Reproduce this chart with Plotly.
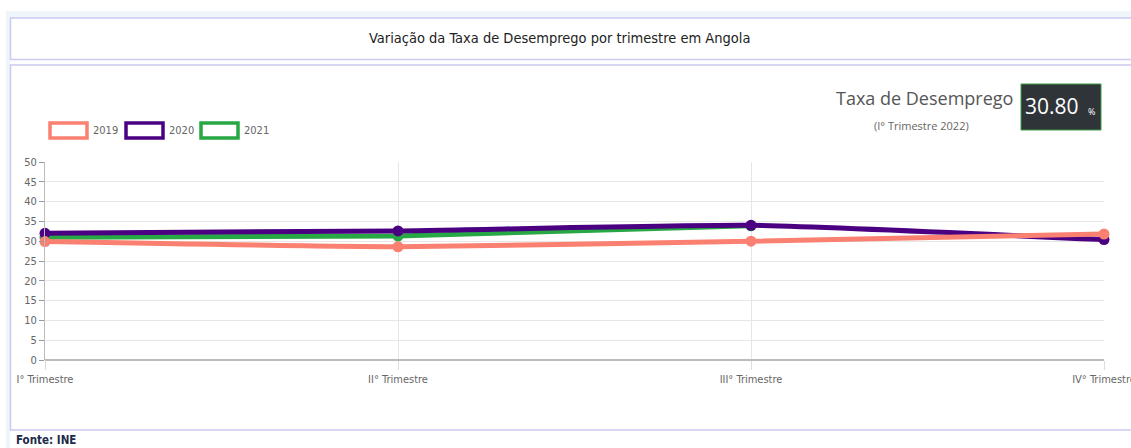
import plotly.graph_objects as go

quarters = ["I° Trimestre", "II° Trimestre", "III° Trimestre", "IV° Trimestre"]
years = ["2019", "2020", "2021"]
v2019 = [29.9, 28.6, 30.0, 31.8]
v2020 = [32.0, 32.6, 34.0, 30.4]
v2021 = [31.0, 31.3, 33.9]
colors = {"2019": "#fa8072", "2020": "#4b0082", "2021": "#28a745"}
series = {"2019": v2019, "2020": v2020, "2021": v2021}
y_ticks = list(range(0, 51, 5))
kpi_value = "30.80"
kpi_title = "Taxa de Desemprego"
kpi_sub = "(I° Trimestre 2022)"
title = "Variação da Taxa de Desemprego por trimestre em Angola"
source = "Fonte: INE"

W, H = 1131, 448
L, R, T, B = 45, 27, 162, 88
PW, PH = W - L - R, H - T - B
NARROW = "Liberation Sans Narrow, Arial Narrow, DejaVu Sans Condensed, sans-serif"


def px(x):
    return (x - L) / PW


def py(y):
    return (H - B - y) / PH


fig = go.Figure()
for yr in reversed(years):
    vals = series[yr]
    fig.add_trace(go.Scatter(
        x=quarters[:len(vals)], y=vals, mode="lines+markers", name=yr,
        line=dict(color=colors[yr], width=5, shape="spline", smoothing=0.5),
        marker=dict(color=colors[yr], size=11),
        hoverinfo="skip", showlegend=False, cliponaxis=False,
    ))

shapes = []
annotations = []


def rect(x0, y0, x1, y1, line_color, fill="rgba(0,0,0,0)", lw=1.5, layer="below"):
    shapes.append(dict(type="rect", xref="paper", yref="paper",
                       x0=px(x0), x1=px(x1), y0=py(y1), y1=py(y0),
                       line=dict(color=line_color, width=lw), fillcolor=fill, layer=layer))


def text(x, y, s, size, color, family=NARROW, xanchor="center", yanchor="middle"):
    annotations.append(dict(xref="paper", yref="paper", x=px(x), y=py(y), text=s,
                            showarrow=False, xanchor=xanchor, yanchor=yanchor,
                            font=dict(size=size, color=color, family=family)))


# outer light panel edges
rect(6, 11, 1140, 18, "#eef5fb", fill="#eef5fb", lw=0)
rect(6, 11, 10, 460, "#eef5fb", fill="#eef5fb", lw=0)
# title box
rect(10.5, 18, 1140, 59.5, "#cbcaf0", fill="white", lw=1.5)
# chart box
rect(10.5, 65, 1140, 430, "#cbcaf0", fill="white", lw=1.5)

text(559, 38, title, 14.5, "#222222")
text(14, 440, "<b>" + source + "</b>", 11.5, "#1a2a4a", xanchor="left")

# custom legend
leg_x = [50, 126, 201]
for yr, lx in zip(years, leg_x):
    rect(lx, 123, lx + 37, 138, colors[yr], fill="white", lw=3.5, layer="above")
    text(lx + 41, 130.5, yr, 11, "#666666", xanchor="left")

# KPI
text(924, 98, kpi_title, 18, "#555555", family="Open Sans")
text(921, 126, kpi_sub, 11, "#666666", family="Open Sans")
shapes.append(dict(type="rect", xref="paper", yref="paper",
                   x0=px(1021), x1=px(1101), y0=py(130), y1=py(84),
                   line=dict(color="#3f9b45", width=1), fillcolor="#2f3438", layer="above"))
text(1052, 106, kpi_value, 21, "white", family="Open Sans")
text(1091, 111, "%", 9, "white", family="Open Sans")

fig.update_layout(
    width=W, height=H, autosize=False,
    margin=dict(l=L, r=R, t=T, b=B, autoexpand=False),
    paper_bgcolor="white", plot_bgcolor="rgba(0,0,0,0)",
    shapes=shapes, annotations=annotations, showlegend=False,
    xaxis=dict(type="category", range=[0, 3], showgrid=True, gridcolor="#e6e6e6",
               ticks="outside", ticklen=9, tickcolor="#dddddd", automargin=False,
               showline=False, zeroline=False,
               tickfont=dict(family=NARROW, size=11, color="#666666")),
    yaxis=dict(range=[0, 50], tickvals=y_ticks, showgrid=True, gridcolor="#e6e6e6",
               ticks="outside", ticklen=5, tickcolor="#999999", automargin=False,
               showline=True, linecolor="#bbbbbb", zeroline=True, zerolinecolor="#bbbbbb",
               zerolinewidth=1.5,
               tickfont=dict(family=NARROW, size=11, color="#666666")),
)

fig.write_html("out.html", config={"displayModeBar": False},
               post_script="document.body.style.margin='0';")
